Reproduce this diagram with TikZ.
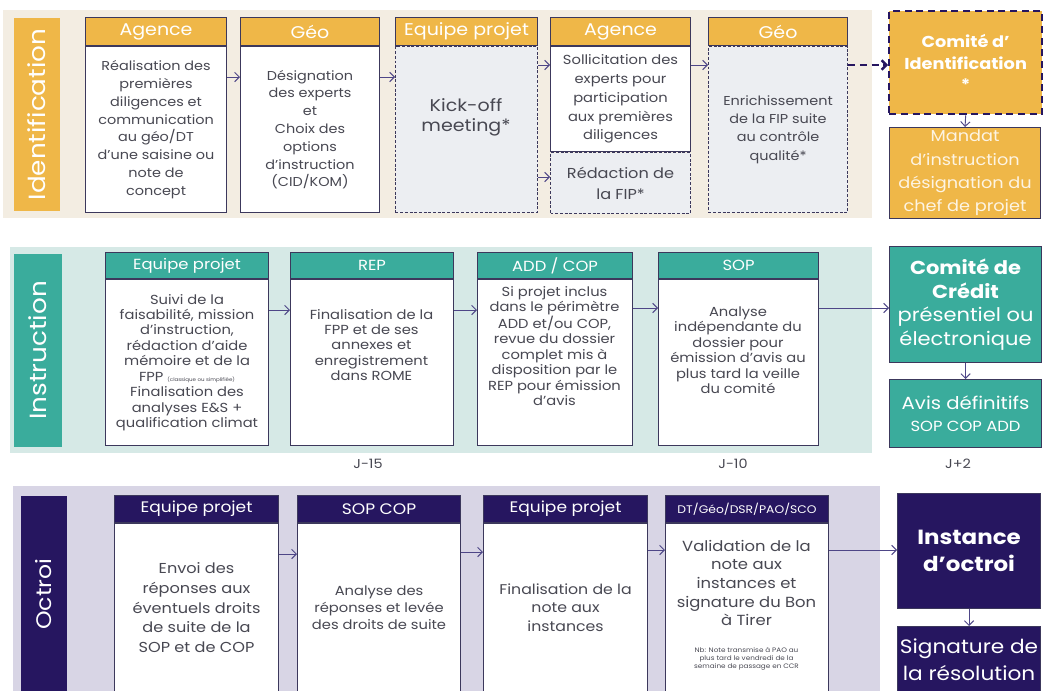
\documentclass[tikz,border=0pt]{standalone}
\usepackage{fontspec}
\setmainfont{Poppins}[FakeStretch=1.12]
\usetikzlibrary{arrows.meta}

\definecolor{idorange}{RGB}{239,183,72}
\definecolor{idbeige}{RGB}{243,237,226}
\definecolor{inteal}{RGB}{58,172,156}
\definecolor{inpale}{RGB}{214,233,230}
\definecolor{ocpurple}{RGB}{38,22,96}
\definecolor{ocpale}{RGB}{216,213,229}
\definecolor{edge}{RGB}{60,56,92}
\definecolor{greybody}{RGB}{236,238,242}
\definecolor{txt}{RGB}{72,72,82}
\definecolor{flow}{RGB}{78,70,135}

\tikzset{
	box/.style={draw=edge, line width=0.9pt, inner sep=1pt, align=center, anchor=north west},
	head/.style={box, text=white},
	idhead/.style={head, fill=idorange, minimum height=0.84cm, font=\fontsize{14.5}{17}\selectfont},
	inhead/.style={head, fill=inteal, minimum height=0.78cm, font=\fontsize{12.5}{14}\selectfont},
	ochead/.style={head, fill=ocpurple, minimum height=0.81cm, font=\fontsize{13}{15}\selectfont},
	body/.style={box, fill=white, text=txt},
	dashbody/.style={body, fill=greybody, dash pattern=on 2.5pt off 1.5pt},
	bodytxt/.style={text=txt, align=center, inner sep=0pt},
	idtext/.style={font=\fontsize{11}{15.2}\selectfont},
	intext/.style={font=\fontsize{11.2}{13.2}\selectfont},
	lane/.style={rotate=90, text=white, inner sep=0pt},
	endbox/.style={box, text=white},
	flowarr/.style={-{Straight Barb[length=4pt,width=8pt]}, draw=flow, line width=0.8pt},
	jlab/.style={text=txt, font=\fontsize{11}{13}\selectfont},
}

\begin{document}
\begin{tikzpicture}[x=0.03cm, y=-0.03cm]
			%%%%% START %%%%%
			\useasboundingbox (0,0) rectangle (1043,690);
			\clip (0,0) rectangle (1043,690);
			\fill[white] (0,0) rectangle (1043,690);
			
			%% Identification
			\fill[idbeige] (3,10) rectangle (872,218);
			\node[lane, fill=idorange, minimum width=5.79cm, minimum height=1.38cm, font=\fontsize{20}{22}\selectfont] (lid) at (37,114.5) {Identification};
			
			\node[idhead, minimum width=4.23cm] (h1) at (85,17) {Agence};
			\node[body, idtext, minimum width=4.23cm, minimum height=4.98cm] (b1) at (h1.south west) {Réalisation des\\premières\\diligences et\\communication\\au géo/DT\\d'une saisine ou\\note de\\concept};
			
			\node[idhead, minimum width=4.17cm] (h2) at (240,17) {Géo};
			\node[body, idtext, minimum width=4.17cm, minimum height=4.98cm] (b2) at (h2.south west) {Désignation\\des experts\\et\\Choix des\\options\\d'instruction\\(CID/KOM)};
			
			\node[idhead, minimum width=4.26cm] (h3) at (395,17) {Equipe projet};
			\node[dashbody, minimum width=4.26cm, minimum height=4.98cm] (b3) at (h3.south west) {};
			\node[bodytxt, font=\fontsize{14.5}{17}\selectfont] (b3t) at (466,117) {Kick-off\\meeting*};
			
			\node[idhead, minimum width=4.2cm] (h4) at (550,17) {Agence};
			\node[body, minimum width=4.2cm, minimum height=3.15cm, font=\fontsize{11.2}{16}\selectfont] (b4) at (h4.south west) {Sollicitation des\\experts pour\\participation\\aux premières\\diligences};
			\node[dashbody, minimum width=4.2cm, minimum height=1.83cm, font=\fontsize{12.3}{18}\selectfont] (b4r) at (b4.south west) {Rédaction de\\la FIP*};
			
			\node[idhead, minimum width=4.17cm] (h5) at (708,17) {Géo};
			\node[dashbody, minimum width=4.17cm, minimum height=4.98cm, font=\fontsize{11}{15.6}\selectfont] (b5) at (h5.south west) {Enrichissement\\de la FIP suite\\au contrôle\\qualité*};
			
			\node[endbox, fill=idorange, draw=ocpurple, line width=2pt, dash pattern=on 6pt off 4pt, minimum width=4.59cm, minimum height=3.09cm, font=\bfseries\fontsize{13.5}{18.5}\selectfont] (cid) at (888,10) {Comité d'\\Identification\\*};
			\node[endbox, fill=idorange, minimum width=4.53cm, minimum height=2.73cm, text=white!85!idorange, font=\fontsize{13.5}{20}\selectfont] (mandat) at (889,127) {Mandat\\d'instruction\\désignation du\\chef de projet};
			
			\draw[flowarr] (b1.east |- 0,77) -- (b2.west |- 0,77);
			\draw[flowarr] (b2.east |- 0,77) -- (b3.west |- 0,77);
			\draw[flowarr] (b3.east |- 0,65) -- (b4.west |- 0,65);
			\draw[flowarr] (b3.east |- 0,177) -- (b4r.west |- 0,177);
			\draw[flowarr] (b4.east |- 0,65) -- (b5.west |- 0,65);
			\draw[flowarr, draw=ocpurple, line width=2pt, dash pattern=on 6pt off 4pt] (b5.east |- 0,65) -- (cid.west |- 0,65);
			\draw[flowarr] (cid.south) -- (mandat.north);
			
			%% Instruction
			\fill[inpale] (10,247) rectangle (872,453);
			\node[lane, fill=inteal, minimum width=5.79cm, minimum height=1.44cm, font=\fontsize{20}{22}\selectfont] (lin) at (38,350.5) {Instruction};
			
			\node[inhead, minimum width=4.89cm] (ih1) at (105,252) {Equipe projet};
			\node[body, intext, minimum width=4.89cm, minimum height=4.98cm] (ib1) at (ih1.south west) {Suivi de la\\faisabilité, mission\\d'instruction,\\rédaction d'aide\\mémoire et de la\\FPP {\fontsize{4.2}{5}\selectfont (classique ou simplifiée)}\\Finalisation des\\analyses E\&S +\\qualification climat};
			
			\node[inhead, minimum width=4.89cm] (ih2) at (290,252) {REP};
			\node[body, minimum width=4.89cm, minimum height=4.98cm] (ib2) at (ih2.south west) {};
			\node[bodytxt, intext] (ib2t) at (371.5,345) {Finalisation de la\\FPP et de ses\\annexes et\\enregistrement\\dans ROME};
			
			\node[inhead, minimum width=4.65cm] (ih3) at (477,252) {ADD / COP};
			\node[body, minimum width=4.65cm, minimum height=4.98cm] (ib3) at (ih3.south west) {};
			\node[bodytxt, intext] (ib3t) at (554.5,346) {Si projet inclus\\dans le périmètre\\ADD et/ou COP,\\revue du dossier\\complet mis à\\disposition par le\\REP pour émission\\d'avis};
			
			\node[inhead, minimum width=4.8cm] (ih4) at (658,252) {SOP};
			\node[body, minimum width=4.8cm, minimum height=4.98cm] (ib4) at (ih4.south west) {};
			\node[bodytxt, intext] (ib4t) at (738,350) {Analyse\\indépendante du\\dossier pour\\émission d'avis au\\plus tard la veille\\du comité};
			
			\node[endbox, fill=inteal, minimum width=4.56cm, minimum height=3.48cm, font=\fontsize{16}{20}\selectfont] (ccr) at (889,246) {\textbf{Comité de}\\\textbf{Crédit}\\présentiel ou\\électronique};
			\node[endbox, fill=inteal, minimum width=4.56cm, minimum height=2.04cm, font=\fontsize{15}{19}\selectfont] (avis) at (889,379) {Avis définitifs\\{\fontsize{12.5}{14}\selectfont SOP COP ADD}};
			
			\draw[flowarr] (ib1.east |- 0,310) -- (ib2.west |- 0,310);
			\draw[flowarr] (ib2.east |- 0,310) -- (ib3.west |- 0,310);
			\draw[flowarr] (ib3.east |- 0,308) -- (ib4.west |- 0,308);
			\draw[flowarr] (ib4.east |- 0,308) -- (ccr.west |- 0,308);
			\draw[flowarr] (ccr.south) -- (avis.north);
			
			\node[jlab] (j15) at (368,464) {J-15};
			\node[jlab] (j10) at (733,464) {J-10};
			\node[jlab] (j2) at (958,464) {J+2};
			
			%% Octroi
			\fill[ocpale] (13,486) rectangle (880,692);
			\node[lane, fill=ocpurple, minimum width=5.88cm, minimum height=1.38cm, font=\fontsize{18}{20}\selectfont] (loc) at (44,594) {Octroi};
			
			\node[ochead, minimum width=4.92cm] (oh1) at (114,495) {Equipe projet};
			\node[body, minimum width=4.92cm, minimum height=5.04cm, font=\fontsize{12.3}{16.8}\selectfont] (ob1) at (oh1.south west) {Envoi des\\réponses aux\\éventuels droits\\de suite de la\\SOP et de COP};
			
			\node[ochead, minimum width=4.89cm] (oh2) at (297,495) {SOP COP};
			\node[body, minimum width=4.89cm, minimum height=5.04cm, font=\fontsize{11.2}{14.2}\selectfont] (ob2) at (oh2.south west) {Analyse des\\réponses et levée\\des droits de suite};
			
			\node[ochead, minimum width=4.92cm] (oh3) at (483,495) {Equipe projet};
			\node[body, minimum width=4.92cm, minimum height=5.04cm, font=\fontsize{12}{15.6}\selectfont] (ob3) at (oh3.south west) {Finalisation de la\\note aux\\instances};
			
			\node[ochead, minimum width=4.89cm, font=\fontsize{9.4}{11}\selectfont] (oh4) at (665,495) {DT/Géo/DSR/PAO/SCO};
			\node[body, minimum width=4.89cm, minimum height=5.04cm] (ob4) at (oh4.south west) {};
			\node[bodytxt, font=\fontsize{12.5}{15.9}\selectfont] (ob4t) at (746.5,583) {Validation de la\\note aux\\instances et\\signature du Bon\\à Tirer};
			\node[bodytxt, font=\fontsize{5.5}{6.8}\selectfont] (ob4n) at (746.5,659) {Nb: Note transmise à PAO au\\plus tard le vendredi de la\\semaine de passage en CCR};
			
			\node[endbox, fill=ocpurple, minimum width=4.29cm, minimum height=3.45cm, font=\bfseries\fontsize{17.5}{23}\selectfont] (inst) at (897,493) {Instance\\d'octroi};
			\node[endbox, fill=ocpurple, minimum width=4.29cm, minimum height=1.98cm, font=\fontsize{16.5}{23.5}\selectfont] (sign) at (897,626) {Signature de\\la résolution};
			
			\draw[flowarr] (ob1.east |- 0,554) -- (ob2.west |- 0,554);
			\draw[flowarr] (ob2.east |- 0,552) -- (ob3.west |- 0,552);
			\draw[flowarr] (ob3.east |- 0,550) -- (ob4.west |- 0,550);
			\draw[flowarr] (ob4.east |- 0,550) -- (inst.west |- 0,550);
			\draw[flowarr] (inst.south) -- (sign.north);
			%%%%% END %%%%%
\end{tikzpicture}
\end{document}
